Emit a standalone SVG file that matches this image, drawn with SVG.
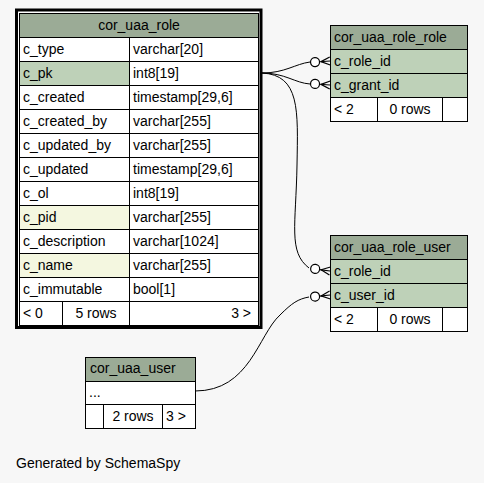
<svg xmlns="http://www.w3.org/2000/svg" width="484" height="483" viewBox="0 0 484 483">
  <style>
    text { font-family: "Liberation Sans", Arial, Helvetica, sans-serif; font-size: 14px; fill: #000; }
    .cell { fill: #ffffff; stroke: #000; stroke-width: 1; }
    .head { fill: #9bab96; stroke: #000; stroke-width: 1; }
    .key { fill: #bed1b8; stroke: #000; stroke-width: 1; }
    .idx { fill: #f4f7e0; stroke: #000; stroke-width: 1; }
    .foot { fill: #ffffff; stroke: #000; stroke-width: 1; }
    .edge { fill: none; stroke: #000; stroke-width: 1; }
    .mid { text-anchor: middle; }
    .end { text-anchor: end; }
  </style>
  <defs>
    <!-- zero-or-many end: circle plus crow's foot, tip at origin pointing right -->
    <g id="zeroMany" class="edge">
      <circle cx="-15" cy="0" r="4.5" fill="#ffffff" stroke="#000" stroke-width="1.2"/>
      <line x1="-10.5" y1="0" x2="0" y2="0" stroke="#000" stroke-width="1.2"/>
      <line x1="-9" y1="0" x2="0" y2="-4" stroke="#000" stroke-width="1.2"/>
      <line x1="-9" y1="0" x2="0" y2="4" stroke="#000" stroke-width="1.2"/>
    </g>
  </defs>

  <rect x="0" y="0" width="484" height="483" fill="#f7f7f7"/>

  <!-- relationships -->
  <g id="connectors" class="edge">
    <path d="M262,73 C285,73 295,64 310,62"/>
    <path d="M262,73 C285,73 295,83 310,84"/>
    <path d="M262,73 C300,75 298,110 297,165 C296,225 288,252 309,268"/>
    <path d="M195,391 C250,391 258,335 280,315 C292,303 298,299 309,297"/>
    <use href="#zeroMany" transform="translate(330,61) rotate(-4)"/>
    <use href="#zeroMany" transform="translate(330,85) rotate(4)"/>
    <use href="#zeroMany" transform="translate(330,271) rotate(8)"/>
    <use href="#zeroMany" transform="translate(330,295) rotate(-6)"/>
  </g>

  <!-- main table -->
  <g id="cor_uaa_role">
    <rect x="16.5" y="10" width="244.5" height="317.5" fill="#ffffff" stroke="#000" stroke-width="3"/>
    <rect class="head" x="19.5" y="13.5" width="239" height="24"/>
    <text class="mid" x="139" y="30">cor_uaa_role</text>

    <rect class="cell" x="19.5" y="37.5" width="110" height="24"/>
    <rect class="cell" x="129.5" y="37.5" width="129" height="24"/>
    <text x="23" y="54">c_type</text><text x="133" y="54">varchar[20]</text>

    <rect class="key" x="19.5" y="61.5" width="110" height="24"/>
    <rect class="cell" x="129.5" y="61.5" width="129" height="24"/>
    <text x="23" y="78">c_pk</text><text x="133" y="78">int8[19]</text>

    <rect class="cell" x="19.5" y="85.5" width="110" height="24"/>
    <rect class="cell" x="129.5" y="85.5" width="129" height="24"/>
    <text x="23" y="102">c_created</text><text x="133" y="102">timestamp[29,6]</text>

    <rect class="cell" x="19.5" y="109.5" width="110" height="24"/>
    <rect class="cell" x="129.5" y="109.5" width="129" height="24"/>
    <text x="23" y="126">c_created_by</text><text x="133" y="126">varchar[255]</text>

    <rect class="cell" x="19.5" y="133.5" width="110" height="24"/>
    <rect class="cell" x="129.5" y="133.5" width="129" height="24"/>
    <text x="23" y="150">c_updated_by</text><text x="133" y="150">varchar[255]</text>

    <rect class="cell" x="19.5" y="157.5" width="110" height="24"/>
    <rect class="cell" x="129.5" y="157.5" width="129" height="24"/>
    <text x="23" y="174">c_updated</text><text x="133" y="174">timestamp[29,6]</text>

    <rect class="cell" x="19.5" y="181.5" width="110" height="24"/>
    <rect class="cell" x="129.5" y="181.5" width="129" height="24"/>
    <text x="23" y="198">c_ol</text><text x="133" y="198">int8[19]</text>

    <rect class="idx" x="19.5" y="205.5" width="110" height="24"/>
    <rect class="cell" x="129.5" y="205.5" width="129" height="24"/>
    <text x="23" y="222">c_pid</text><text x="133" y="222">varchar[255]</text>

    <rect class="cell" x="19.5" y="229.5" width="110" height="24"/>
    <rect class="cell" x="129.5" y="229.5" width="129" height="24"/>
    <text x="23" y="246">c_description</text><text x="133" y="246">varchar[1024]</text>

    <rect class="idx" x="19.5" y="253.5" width="110" height="24"/>
    <rect class="cell" x="129.5" y="253.5" width="129" height="24"/>
    <text x="23" y="270">c_name</text><text x="133" y="270">varchar[255]</text>

    <rect class="cell" x="19.5" y="277.5" width="110" height="24"/>
    <rect class="cell" x="129.5" y="277.5" width="129" height="24"/>
    <text x="23" y="294">c_immutable</text><text x="133" y="294">bool[1]</text>

    <rect class="foot" x="19.5" y="301.5" width="43" height="24"/>
    <rect class="foot" x="62.5" y="301.5" width="67" height="24"/>
    <rect class="foot" x="129.5" y="301.5" width="129" height="24"/>
    <text x="23" y="318">&lt; 0</text>
    <text class="mid" x="96" y="318">5 rows</text>
    <text class="end" x="251" y="318">3 &gt;</text>
  </g>

  <!-- role to role link table -->
  <g id="cor_uaa_role_role">
    <rect class="head" x="330.5" y="25.5" width="137" height="24"/>
    <text x="334" y="42">cor_uaa_role_role</text>
    <rect class="key" x="330.5" y="49.5" width="137" height="24"/>
    <text x="334" y="66">c_role_id</text>
    <rect class="key" x="330.5" y="73.5" width="137" height="24"/>
    <text x="334" y="90">c_grant_id</text>
    <rect class="foot" x="330.5" y="97.5" width="47" height="24"/>
    <rect class="foot" x="377.5" y="97.5" width="65" height="24"/>
    <rect class="foot" x="442.5" y="97.5" width="25" height="24"/>
    <text x="334" y="114">&lt; 2</text>
    <text class="mid" x="410" y="114">0 rows</text>
  </g>

  <!-- role to user link table -->
  <g id="cor_uaa_role_user">
    <rect class="head" x="330.5" y="235.5" width="137" height="24"/>
    <text x="334" y="252">cor_uaa_role_user</text>
    <rect class="key" x="330.5" y="259.5" width="137" height="24"/>
    <text x="334" y="276">c_role_id</text>
    <rect class="key" x="330.5" y="283.5" width="137" height="24"/>
    <text x="334" y="300">c_user_id</text>
    <rect class="foot" x="330.5" y="307.5" width="47" height="24"/>
    <rect class="foot" x="377.5" y="307.5" width="65" height="24"/>
    <rect class="foot" x="442.5" y="307.5" width="25" height="24"/>
    <text x="334" y="324">&lt; 2</text>
    <text class="mid" x="410" y="324">0 rows</text>
  </g>

  <!-- user table -->
  <g id="cor_uaa_user">
    <rect class="head" x="85.5" y="357.5" width="110" height="24"/>
    <text x="90" y="373">cor_uaa_user</text>
    <rect class="cell" x="85.5" y="381.5" width="110" height="23"/>
    <text x="89" y="397">...</text>
    <rect class="foot" x="85.5" y="404.5" width="18" height="24"/>
    <rect class="foot" x="103.5" y="404.5" width="59" height="24"/>
    <rect class="foot" x="162.5" y="404.5" width="33" height="24"/>
    <text class="mid" x="133" y="421">2 rows</text>
    <text x="166" y="421">3 &gt;</text>
  </g>

  <text x="16" y="468">Generated by SchemaSpy</text>
</svg>
